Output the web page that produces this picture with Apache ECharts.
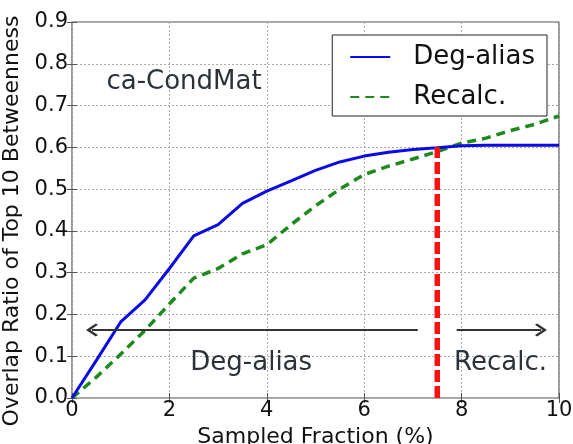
<!DOCTYPE html>
<html>
<head>
<meta charset="utf-8">
<script src="https://cdn.jsdelivr.net/npm/echarts@6/dist/echarts.min.js"></script>
<style>
  html, body { margin: 0; padding: 0; background: #fff; }
  #chart { width: 573px; height: 444px; }
</style>
</head>
<body>
<div id="chart"></div>
<script>
// sampled fraction (%) on the x axis
const fractions = [0, 0.5, 1, 1.5, 2, 2.5, 3, 3.5, 4, 4.5, 5, 5.5, 6, 6.5, 7, 7.5, 8, 8.5, 9, 9.5, 10]
const degAlias = [0, 0.09, 0.182, 0.235, 0.31, 0.388, 0.415, 0.466, 0.495, 0.52, 0.545, 0.565, 0.579, 0.588, 0.595, 0.599, 0.604, 0.605, 0.605, 0.605, 0.605]
const recalc = [0, 0.05, 0.105, 0.162, 0.225, 0.287, 0.31, 0.345, 0.367, 0.415, 0.46, 0.5, 0.535, 0.555, 0.572, 0.59, 0.61, 0.622, 0.64, 0.655, 0.675]
// switch point between the two methods
const switchX = 7.5
const switchTop = 0.6
// annotation arrows: [from, to] on the x axis, at arrowY
const arrowY = 0.163
const leftArrow = [7.1, 0.41]
const rightArrow = [7.9, 9.63]

const FONT = 'DejaVu Sans'
const pairs = (xs, ys) => xs.map((x, i) => [x, ys[i]])
const chevron = 'path://M0,0L10,9L8,11L0,4L-8,11L-10,9Z'

const chart = echarts.init(document.getElementById('chart'))

const sideAxis = {
  min: 0,
  axisLine: { show: false },
  axisLabel: { show: false },
  axisTick: { inside: true, length: 5, lineStyle: { color: '#555' } },
  splitLine: { show: false }
}

chart.setOption({
  animation: false,
  textStyle: { fontFamily: FONT },
  grid: {
    left: 72, right: 14, top: 22, bottom: 46,
    outerBoundsMode: 'none',
    show: true, borderColor: '#555', borderWidth: 1.2
  },
  legend: {
    orient: 'vertical',
    right: 26,
    top: 35,
    data: ['Deg-alias', 'Recalc.'],
    itemWidth: 40,
    itemHeight: 14,
    itemGap: 14,
    padding: [9, 12, 6, 17],
    borderColor: '#222',
    borderWidth: 1,
    backgroundColor: '#fff',
    itemStyle: { opacity: 0, borderWidth: 0 },
    textStyle: { fontSize: 26, color: '#111', fontFamily: FONT, padding: [0, 0, 0, 18] }
  },
  xAxis: [
    {
      type: 'value',
      min: 0, max: 10, interval: 2,
      name: 'Sampled Fraction (%)',
      nameLocation: 'middle',
      nameGap: 20,
      nameTextStyle: { fontSize: 22, color: '#111' },
      axisLine: { show: false },
      axisTick: { inside: true, length: 5, lineStyle: { color: '#555' } },
      axisLabel: { fontSize: 21, color: '#111', margin: 2 },
      splitLine: { show: true, lineStyle: { type: [2, 2], color: '#aaa' } }
    },
    Object.assign({ type: 'value', position: 'top', max: 10, interval: 2 }, sideAxis)
  ],
  yAxis: [
    {
      type: 'value',
      min: 0, max: 0.9, interval: 0.1,
      name: 'Overlap Ratio of Top 10 Betweenness',
      nameLocation: 'middle',
      nameGap: 46,
      nameTextStyle: { fontSize: 22, color: '#111', padding: [0, 22, 0, 0] },
      axisLine: { show: false },
      axisTick: { inside: true, length: 5, lineStyle: { color: '#555' } },
      axisLabel: { fontSize: 21, color: '#111', margin: 4, formatter: v => v.toFixed(1) },
      splitLine: { show: true, lineStyle: { type: [2, 2], color: '#aaa' } }
    },
    Object.assign({ type: 'value', position: 'right', max: 0.9, interval: 0.1 }, sideAxis)
  ],
  series: [
    {
      name: 'Recalc.',
      type: 'line',
      data: pairs(fractions, recalc),
      showSymbol: false,
      symbol: 'none',
      z: 3,
      lineStyle: { color: '#1e8a1e', width: 3.5, type: [9, 6] },
      itemStyle: { color: '#1e8a1e' }
    },
    {
      name: 'Deg-alias',
      type: 'line',
      data: pairs(fractions, degAlias),
      showSymbol: false,
      symbol: 'none',
      z: 4,
      lineStyle: { color: '#0a0ae6', width: 3 },
      itemStyle: { color: '#0a0ae6' }
    },
    {
      name: 'switch',
      type: 'line',
      data: [[switchX, 0], [switchX, switchTop]],
      showSymbol: false,
      symbol: 'none',
      z: 5,
      lineStyle: { color: '#ff1010', width: 5.5, type: [12, 4] },
      markLine: {
        silent: true,
        symbol: ['none', chevron],
        symbolSize: [13, 12],
        label: { show: false },
        lineStyle: { color: '#333', width: 1.8, type: 'solid' },
        data: [
          [{ coord: [leftArrow[0], arrowY] }, { coord: [leftArrow[1], arrowY] }],
          [{ coord: [rightArrow[0], arrowY] }, { coord: [rightArrow[1], arrowY] }]
        ]
      },
      markPoint: {
        silent: true,
        symbol: 'circle',
        symbolSize: 0,
        label: { show: true, position: 'inside', fontSize: 26, color: '#2c323a', fontFamily: FONT },
        data: [
          { coord: [2.3, 0.756], value: 'ca-CondMat', label: { formatter: 'ca-CondMat' } },
          { coord: [3.68, 0.084], value: 'Deg-alias', label: { formatter: 'Deg-alias' } },
          { coord: [8.8, 0.084], value: 'Recalc.', label: { formatter: 'Recalc.' } }
        ]
      }
    }
  ]
})
</script>
</body>
</html>
